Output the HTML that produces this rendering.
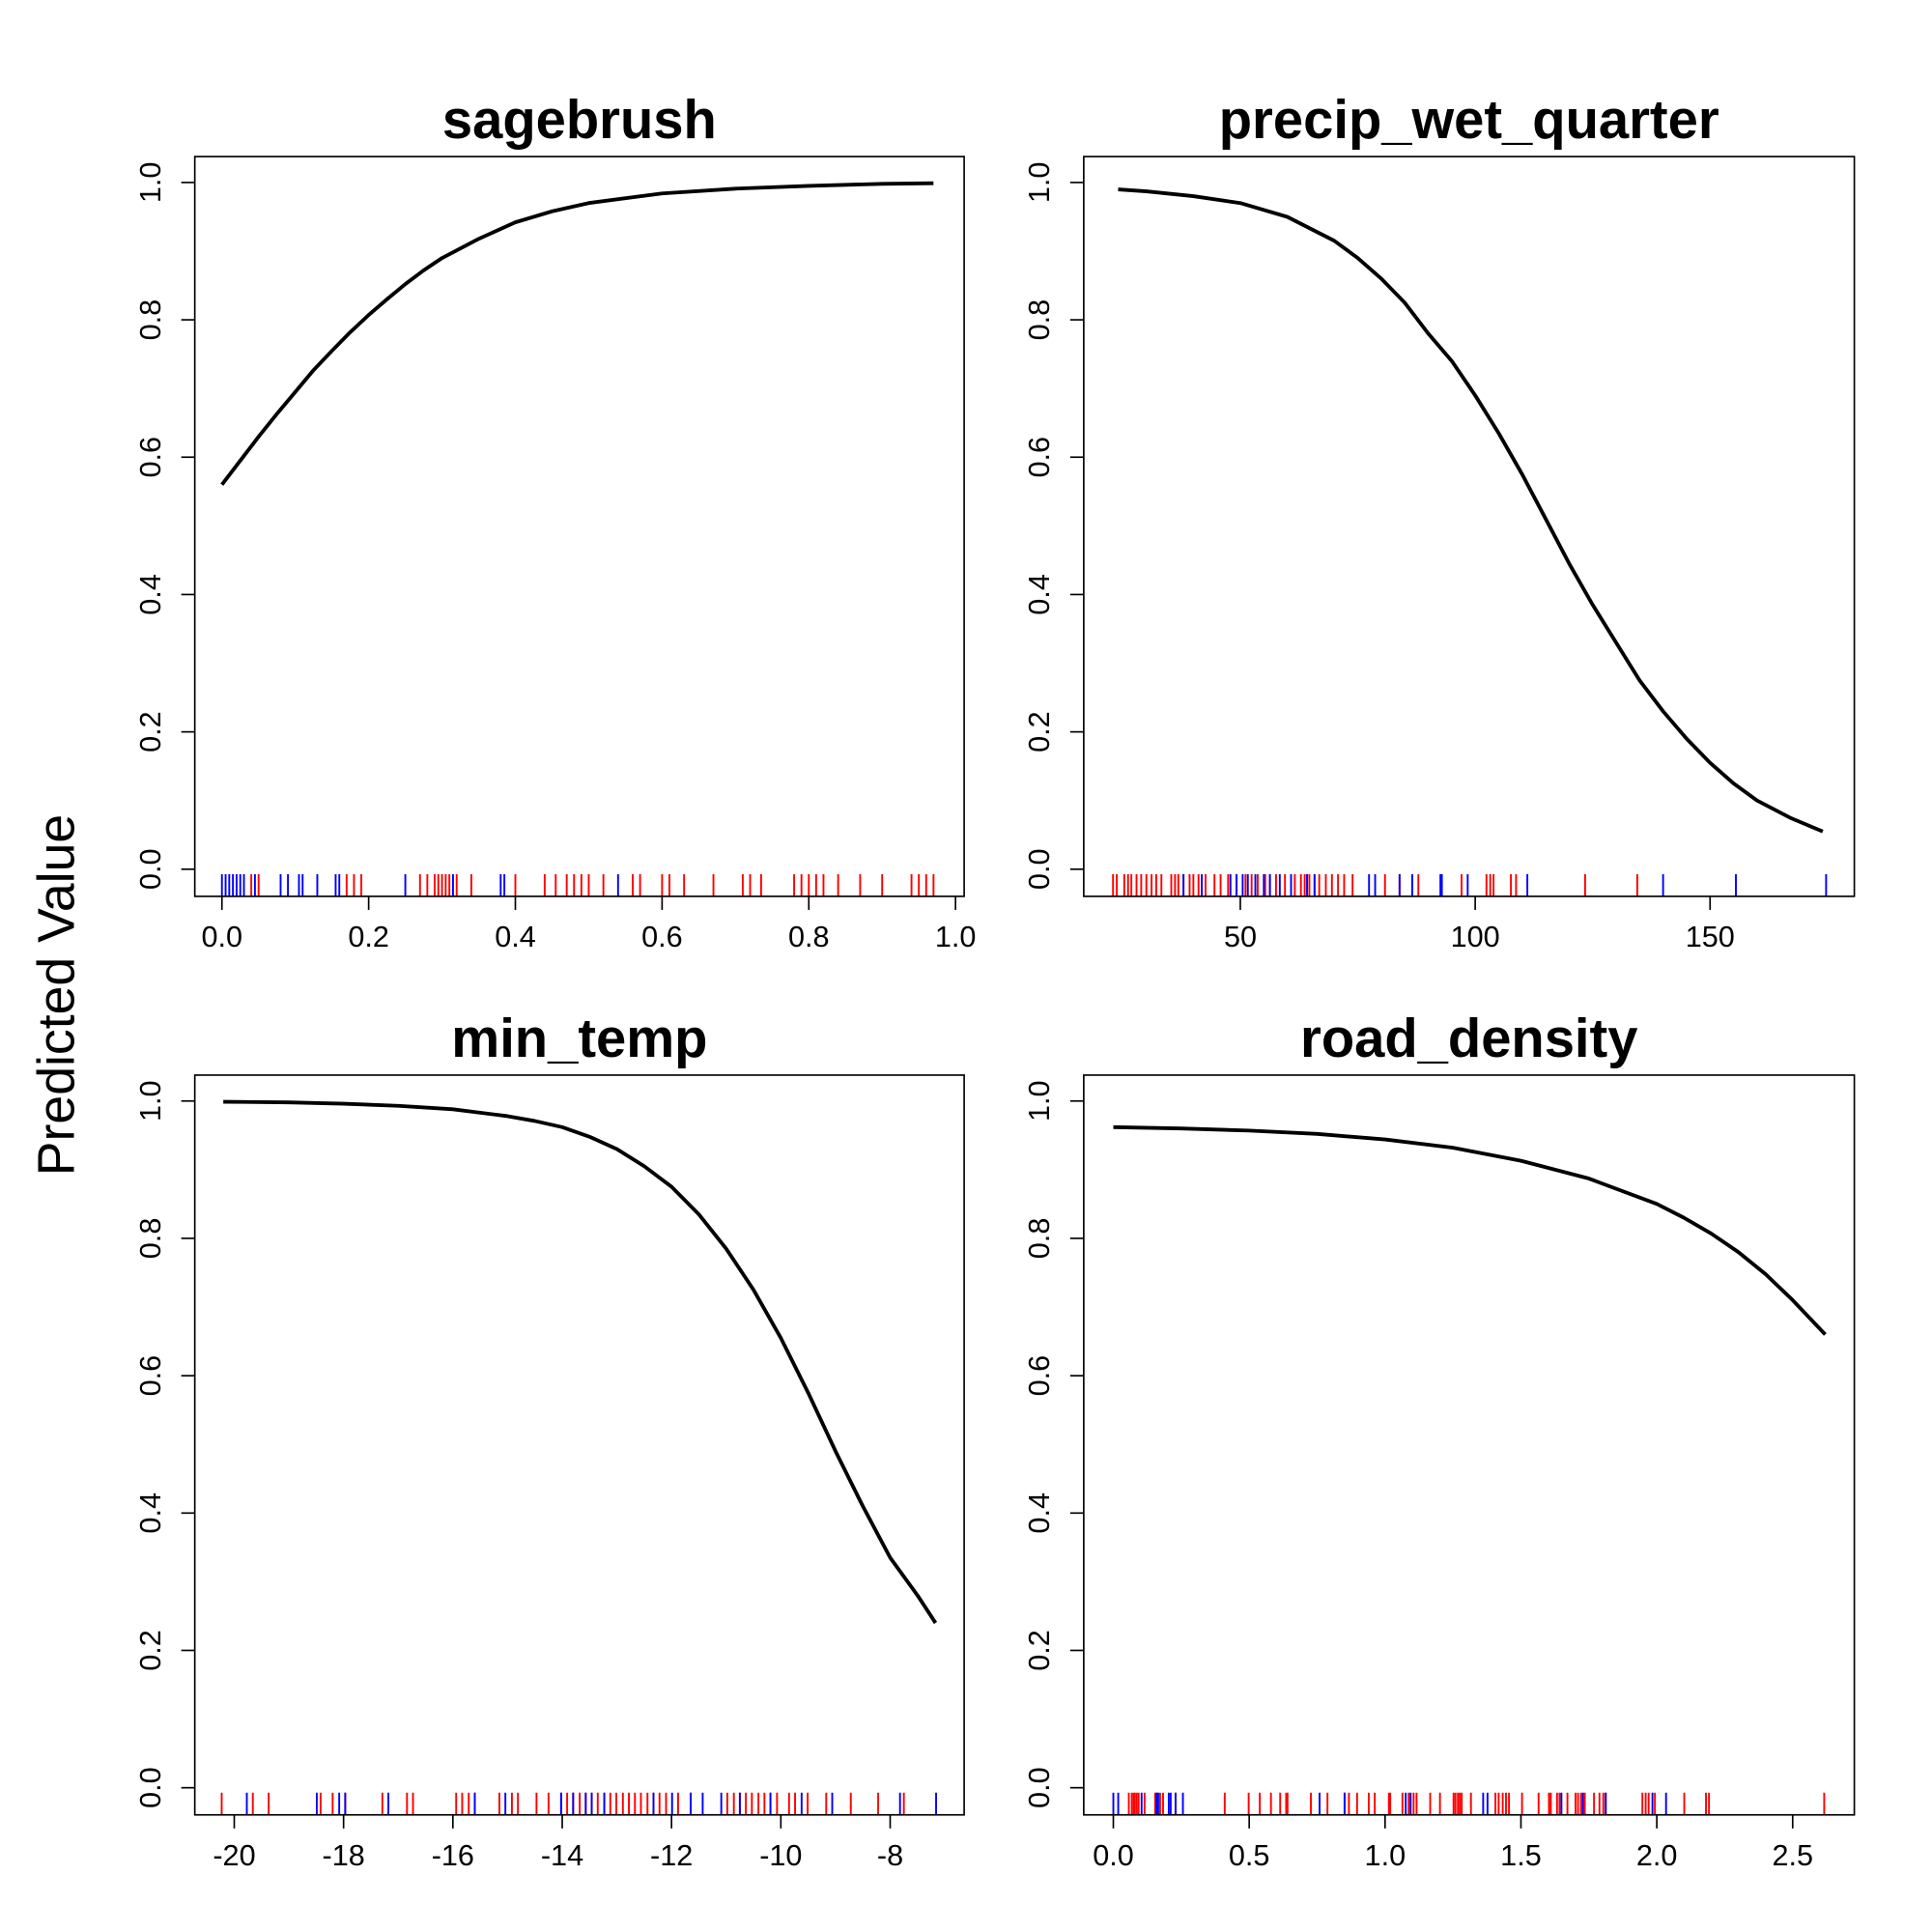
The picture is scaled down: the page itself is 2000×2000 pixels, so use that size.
<!DOCTYPE html>
<html><head><meta charset="utf-8"><style>
html,body{margin:0;padding:0;background:#fff;}
svg{display:block;}
text{font-family:"Liberation Sans",Arial,sans-serif;fill:#000;}
</style></head>
<body>
<svg id="chart" width="2000" height="2000" viewBox="0 0 1567 1567" xmlns="http://www.w3.org/2000/svg">
<text x="0" y="0" transform="translate(60,807) rotate(-90)" text-anchor="middle" font-size="42">Predicted Value</text>
</svg>
<script>
// ---- Data ----
const titles = ["sagebrush", "precip_wet_quarter", "min_temp", "road_density"];
const yTicks = [0, 0.2, 0.4, 0.6, 0.8, 1.0];
const yTickLabels = ["0.0", "0.2", "0.4", "0.6", "0.8", "1.0"];

const sageX = [0, 0.025, 0.05, 0.075, 0.1, 0.125, 0.15, 0.175, 0.2, 0.225, 0.25, 0.275, 0.3, 0.35, 0.4, 0.45, 0.5, 0.6, 0.7, 0.8, 0.9, 0.97];
const sageY = [0.56, 0.595, 0.63, 0.663, 0.695, 0.727, 0.755, 0.782, 0.807, 0.83, 0.852, 0.872, 0.89, 0.918, 0.942, 0.958, 0.97, 0.984, 0.991, 0.995, 0.998, 0.999];
const sageTicks = [0, 0.2, 0.4, 0.6, 0.8, 1.0];
const sageTickLabels = ["0.0", "0.2", "0.4", "0.6", "0.8", "1.0"];
const sageRed = [0.04,0.05,0.17,0.18,0.19,0.27,0.28,0.29,0.295,0.3,0.305,0.31,0.32,0.34,0.4,0.44,0.455,0.47,0.48,0.49,0.5,0.52,0.56,0.57,0.6,0.61,0.63,0.67,0.71,0.72,0.735,0.78,0.79,0.8,0.81,0.82,0.84,0.87,0.9,0.94,0.95,0.96,0.97];
const sageBlue = [0.0,0.005,0.01,0.015,0.02,0.025,0.03,0.045,0.08,0.09,0.105,0.11,0.13,0.155,0.16,0.25,0.315,0.38,0.385,0.54];

const precX = [24, 30, 40, 50, 60, 70, 75, 80, 85, 90, 95, 100, 105, 110, 115, 120, 125, 130, 135, 140, 145, 150, 155, 160, 167, 174];
const precY = [0.99, 0.987, 0.98, 0.97, 0.95, 0.915, 0.89, 0.86, 0.825, 0.78, 0.74, 0.69, 0.635, 0.575, 0.51, 0.445, 0.385, 0.33, 0.275, 0.23, 0.19, 0.155, 0.125, 0.1, 0.075, 0.055];
const precTicks = [50, 100, 150];
const precTickLabels = ["50", "100", "150"];
const precRed = [22.9,23.7,25.3,26.1,26.8,27.9,28.9,30,31.1,32.1,33.2,35.3,36.1,36.8,37.9,39.2,40,41.1,42.6,44.5,45.8,47.4,49.2,51.1,52.4,53.7,55.3,56.3,57.6,59.5,61.6,62.9,63.7,64.7,65.8,66.8,68.2,69.5,70.8,72.1,73.9,80.8,83.9,87.9,97.1,102.4,103.2,103.9,107.6,108.7,123.4,134.5];
const precBlue = [37.9,41.8,47.9,49.2,50.5,51.6,53.2,55,56.3,58.4,60.8,64.2,65.8,77.4,78.7,83.9,86.6,92.6,92.9,98.4,111.1,140,155.5,174.7];

const tempX = [-20.2, -19, -18, -17, -16, -15, -14.5, -14, -13.5, -13, -12.5, -12, -11.5, -11, -10.5, -10, -9.5, -9, -8.5, -8, -7.5, -7.17];
const tempY = [0.999, 0.998, 0.996, 0.993, 0.988, 0.978, 0.971, 0.962, 0.948, 0.93, 0.905, 0.875, 0.835, 0.785, 0.725, 0.655, 0.575, 0.49, 0.41, 0.335, 0.28, 0.24];
const tempTicks = [-20, -18, -16, -14, -12, -10, -8];
const tempTickLabels = ["-20", "-18", "-16", "-14", "-12", "-10", "-8"];
const tempRed = [-20.23,-19.66,-19.37,-18.42,-18.2,-17.97,-17.29,-16.84,-16.73,-15.94,-15.83,-15.71,-15.6,-15.15,-14.92,-14.81,-14.47,-14.25,-14.02,-13.91,-13.8,-13.68,-13.57,-13.46,-13.35,-13.23,-13.12,-13.01,-12.89,-12.78,-12.67,-12.56,-12.44,-12.33,-12.22,-12.1,-11.88,-11.65,-10.98,-10.86,-10.75,-10.64,-10.53,-10.41,-10.3,-10.19,-10.07,-9.85,-9.74,-9.51,-9.17,-8.72,-8.22,-7.75];
const tempBlue = [-19.77,-18.49,-18.08,-17.97,-17.18,-15.6,-15.04,-14.02,-13.8,-13.57,-13.46,-13.23,-12.33,-11.99,-11.65,-11.43,-11.09,-10.75,-10.19,-9.62,-9.06,-7.82,-7.16];

const roadX = [0, 0.25, 0.5, 0.75, 1.0, 1.25, 1.5, 1.75, 2.0, 2.1, 2.2, 2.3, 2.4, 2.5, 2.62];
const roadY = [0.962, 0.96, 0.957, 0.952, 0.944, 0.932, 0.913, 0.887, 0.85, 0.83, 0.807, 0.78, 0.748, 0.71, 0.66];
const roadTicks = [0, 0.5, 1.0, 1.5, 2.0, 2.5];
const roadTickLabels = ["0.0", "0.5", "1.0", "1.5", "2.0", "2.5"];
const roadRed = [.057,.068,.075,.079,.086,.093,.115,.154,.161,.172,.183,.229,.41,.498,.539,.58,.614,.636,.641,.727,.788,.851,.867,.897,.94,.962,1.014,1.019,1.064,1.087,1.105,1.116,1.166,1.202,1.252,1.259,1.268,1.275,1.282,1.316,1.406,1.418,1.433,1.445,1.456,1.504,1.565,1.603,1.61,1.633,1.642,1.671,1.701,1.71,1.721,1.735,1.769,1.789,1.803,1.812,1.947,1.959,1.97,1.993,2.101,2.181,2.192,2.616];
const roadBlue = [0,.018,.104,.159,.165,.204,.211,.229,.256,.759,.851,1.076,1.094,1.361,1.377,1.649,1.728,1.812,1.984,2.034];

// ---- Layout ----
const NS = "http://www.w3.org/2000/svg";
const svg = document.getElementById("chart");
function mk(tag, attrs, parent) {
  const e = document.createElementNS(NS, tag);
  for (const k in attrs) e.setAttribute(k, attrs[k]);
  (parent || svg).appendChild(e);
  return e;
}
const panels = [
  {box:[158,127,782,727], x0:0, px0:180, x1:1, px1:775, y0p:705, y1p:148, cx:sageX, cy:sageY, ticks:sageTicks, tl:sageTickLabels, red:sageRed, blue:sageBlue, name:"sagebrush"},
  {box:[879,127,1504,727], x0:50, px0:1006, x1:150, px1:1387, y0p:705, y1p:148, cx:precX, cy:precY, ticks:precTicks, tl:precTickLabels, red:precRed, blue:precBlue, name:"precip"},
  {box:[158,872,782,1472], x0:-20, px0:190, x1:-8, px1:722, y0p:1450, y1p:893, cx:tempX, cy:tempY, ticks:tempTicks, tl:tempTickLabels, red:tempRed, blue:tempBlue, name:"min-temp"},
  {box:[879,872,1504,1472], x0:0, px0:903, x1:2.5, px1:1454, y0p:1450, y1p:893, cx:roadX, cy:roadY, ticks:roadTicks, tl:roadTickLabels, red:roadRed, blue:roadBlue, name:"road-density"}
];
panels.forEach((p, i) => {
  const g = mk("g", {});
  
  
  const xs = v => p.px0 + (v - p.x0) * (p.px1 - p.px0) / (p.x1 - p.x0);
  const ys = v => p.y0p + (v) * (p.y1p - p.y0p);
  const [l, t, r, b] = p.box;
  const title = mk("text", {x:(l+r)/2, y:t-15, "text-anchor":"middle", "font-size":"44", "font-weight":"bold"}, g);
  title.textContent = titles[i];
  
  
  const rug = (arr, col, nm) => arr.forEach(v => {
    const ln = mk("line", {x1:xs(v), x2:xs(v), y1:p.y0p+4, y2:b, stroke:col, "stroke-width":"1.5"}, g);
    
    
  });
  rug(p.red, "#ff0000", "rug-red");
  rug(p.blue, "#0000ff", "rug-blue");
  const box = mk("rect", {x:l, y:t, width:r-l, height:b-t, fill:"none", stroke:"#000", "stroke-width":"1.3"}, g);
  
  
  yTicks.forEach((v, k) => {
    const y = ys(v);
    mk("line", {x1:l-11, x2:l, y1:y, y2:y, stroke:"#000", "stroke-width":"1.3"}, g);
    const tx = mk("text", {x:0, y:0, transform:`translate(${l-28},${y}) rotate(-90)`, "text-anchor":"middle", "font-size":"24"}, g);
    tx.textContent = yTickLabels[k];
    
    
  });
  p.ticks.forEach((v, k) => {
    const x = xs(v);
    mk("line", {x1:x, x2:x, y1:b, y2:b+11, stroke:"#000", "stroke-width":"1.3"}, g);
    const tx = mk("text", {x:x, y:b+41, "text-anchor":"middle", "font-size":"24"}, g);
    tx.textContent = p.tl[k];
    
    
  });
  const d = p.cx.map((v, k) => (k ? "L" : "M") + xs(v).toFixed(1) + "," + ys(p.cy[k]).toFixed(1)).join(" ");
  const path = mk("path", {d:d, fill:"none", stroke:"#000", "stroke-width":"3", "stroke-linejoin":"round"}, g);
  
  
});
</script>
</body></html>
